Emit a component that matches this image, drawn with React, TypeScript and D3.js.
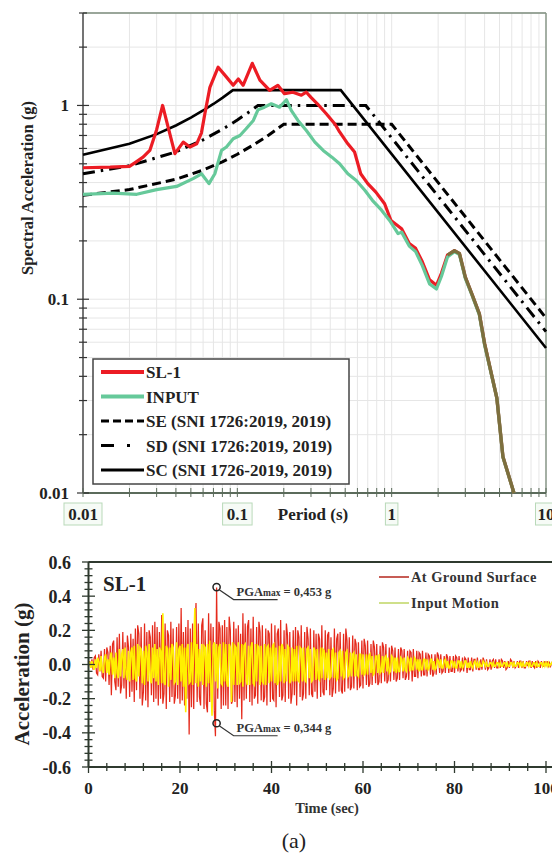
import React from "react";
import * as d3 from "d3";

// ---------- Response spectra (period s, Sa g) ----------
const sl1Periods = [0.01, 0.015, 0.02, 0.022, 0.0245, 0.0271, 0.03, 0.0328, 0.0355, 0.0394, 0.0446, 0.0493, 0.0545, 0.0585, 0.0616, 0.0664, 0.0751, 0.0851, 0.094, 0.1015, 0.109, 0.125, 0.14, 0.162, 0.183, 0.202, 0.229, 0.26, 0.28, 0.3, 0.33, 0.377, 0.43, 0.46, 0.52, 0.575, 0.63, 0.7, 0.79, 0.9, 0.99, 1.16, 1.3, 1.43, 1.58, 1.76, 1.95, 2.1, 2.3, 2.55, 2.75, 3.0, 3.33, 3.7, 4.0, 4.8, 5.26, 6.2];
const sl1Values = [0.477, 0.48, 0.485, 0.51, 0.541, 0.586, 0.75, 1.0, 0.78, 0.564, 0.647, 0.61, 0.634, 0.72, 0.906, 1.24, 1.575, 1.4, 1.27, 1.37, 1.27, 1.65, 1.35, 1.195, 1.27, 1.15, 1.17, 1.13, 1.17, 1.1, 1.02, 0.906, 0.8, 0.73, 0.634, 0.575, 0.444, 0.395, 0.357, 0.311, 0.255, 0.231, 0.194, 0.183, 0.156, 0.126, 0.118, 0.136, 0.169, 0.178, 0.172, 0.13, 0.105, 0.084, 0.059, 0.031, 0.0154, 0.01];

const inputPeriods = [0.01, 0.0157, 0.0223, 0.03, 0.0404, 0.0517, 0.0586, 0.0655, 0.0715, 0.079, 0.085, 0.094, 0.104, 0.114, 0.127, 0.136, 0.15, 0.166, 0.188, 0.208, 0.224, 0.247, 0.28, 0.318, 0.36, 0.41, 0.46, 0.52, 0.59, 0.67, 0.75, 0.86, 0.97, 1.1, 1.16, 1.3, 1.43, 1.58, 1.76, 1.95, 2.1, 2.3, 2.55, 2.75, 3.0, 3.33, 3.7, 4.0, 4.8, 5.26, 6.2];
const inputValues = [0.348, 0.353, 0.348, 0.368, 0.382, 0.419, 0.444, 0.395, 0.444, 0.586, 0.61, 0.673, 0.7, 0.758, 0.837, 0.95, 0.98, 1.02, 0.98, 1.07, 0.94, 0.837, 0.743, 0.647, 0.586, 0.541, 0.5, 0.444, 0.41, 0.365, 0.324, 0.288, 0.255, 0.218, 0.222, 0.188, 0.176, 0.149, 0.12, 0.113, 0.131, 0.165, 0.176, 0.17, 0.128, 0.104, 0.083, 0.058, 0.031, 0.0153, 0.01];

const sePeriods = [0.01, 0.02, 0.04, 0.06, 0.08, 0.1, 0.13, 0.16, 0.2, 1.0, 10];
const seValues = [0.344, 0.368, 0.416, 0.464, 0.512, 0.56, 0.632, 0.704, 0.8, 0.8, 0.08];
const sdPeriods = [0.01, 0.02, 0.04, 0.06, 0.08, 0.1, 0.12, 0.136, 0.68, 10];
const sdValues = [0.444, 0.488, 0.576, 0.665, 0.753, 0.841, 0.929, 1.0, 1.0, 0.068];
const scPeriods = [0.01, 0.02, 0.03, 0.04, 0.05, 0.06, 0.07, 0.08, 0.0936, 0.468, 10];
const scValues = [0.557, 0.634, 0.711, 0.788, 0.865, 0.942, 1.018, 1.095, 1.2, 1.2, 0.056];

const periodTickLabels = ["0.01", "0.1", "1", "10"];
const saTickLabels = ["0.01", "0.1", "1"];
const spectraLegend = ["SL-1", "INPUT", "SE (SNI 1726:2019, 2019)", "SD (SNI 1726:2019, 2019)", "SC (SNI 1726-2019, 2019)"];

// ---------- Acceleration time histories (g), sampled every 0.25 s ----------
const sampleStep = 0.25;
const accGround = [
  0, 0.02, -0.02, 0.03, -0.03, 0.04, 0.05, -0.05, -0.06, 0.06, -0.04, 0.08, -0.07, -0.08, 0.09, -0.1, 0.1, 0.07, -0.12, 0.11,
  -0.18, 0.12, 0.14, -0.1, -0.15, 0.16, -0.13, 0.18, -0.17, -0.12, 0.19, -0.14, 0.13, -0.2, 0.17, 0.1, -0.19, 0.18, -0.16, 0.15,
  -0.22, 0.21, -0.15, 0.23, 0.18, -0.2, 0.22, -0.24, -0.16, 0.24, -0.21, 0.19, -0.25, 0.2, 0.16, -0.18, 0.23, -0.22, 0.25, -0.2,
  0.22, -0.24, 0.19, -0.2, 0.29, -0.23, -0.17, 0.24, -0.26, 0.2, 0.17, -0.22, 0.25, -0.19, 0.21, -0.23, -0.18, 0.22, -0.2, 0.24,
  -0.23, 0.33, -0.21, 0.19, -0.24, 0.22, -0.2, 0.26, -0.41, 0.21, -0.25, 0.24, -0.26, 0.2, 0.36, -0.22, 0.24, -0.19, -0.24, 0.23,
  0.27, -0.26, 0.2, -0.23, -0.28, 0.3, -0.22, 0.24, -0.25, 0.22, -0.27, -0.42, 0.45, -0.2, 0.25, 0.21, -0.26, 0.23, -0.24, 0.26,
  -0.24, 0.22, -0.26, 0.28, 0.2, -0.23, -0.21, 0.25, -0.22, 0.21, -0.25, 0.23, -0.2, 0.18, -0.32, 0.3, -0.21, 0.24, -0.2, 0.22,
  0.26, -0.22, 0.21, -0.24, 0.28, -0.2, -0.18, 0.22, -0.23, 0.25, 0.19, -0.21, 0.23, -0.22, -0.19, 0.21, -0.24, 0.2, 0.18, -0.22,
  0.24, -0.2, -0.21, 0.23, -0.25, 0.18, 0.21, -0.19, 0.26, -0.21, -0.18, 0.2, -0.22, 0.24, 0.17, -0.2, 0.19, -0.23, -0.17, 0.2,
  -0.18, 0.22, -0.24, 0.2, 0.16, -0.19, 0.23, -0.21, -0.17, 0.19, -0.2, 0.22, 0.15, -0.18, 0.21, -0.17, -0.19, 0.2, -0.16, 0.18,
  -0.2, 0.18, 0.15, -0.19, 0.23, -0.16, -0.18, 0.2, -0.15, 0.17, 0.19, -0.18, 0.16, -0.19, -0.14, 0.21, -0.17, 0.15, 0.18, -0.16,
  0.19, -0.15, -0.17, 0.18, -0.16, 0.21, 0.14, -0.14, 0.16, -0.15, -0.13, 0.17, -0.14, 0.15, 0.12, -0.15, 0.13, -0.13, -0.12, 0.14,
  -0.14, 0.15, 0.11, -0.12, 0.14, -0.13, -0.11, 0.12, -0.12, 0.14, 0.1, -0.11, 0.12, -0.12, -0.1, 0.11, -0.11, 0.13, 0.1, -0.1,
  0.12, -0.11, -0.09, 0.1, -0.1, 0.11, 0.08, -0.09, 0.1, -0.1, -0.08, 0.09, -0.09, 0.1, 0.08, -0.08, 0.09, -0.09, -0.07, 0.08,
  -0.09, 0.08, 0.07, -0.1, 0.09, -0.07, -0.07, 0.08, -0.08, 0.07, 0.06, -0.07, 0.08, -0.06, -0.06, 0.07, -0.07, 0.06, 0.05, -0.06,
  0.06, -0.07, -0.05, 0.06, -0.06, 0.07, 0.05, -0.05, 0.06, -0.05, -0.04, 0.05, -0.05, 0.06, 0.04, -0.05, 0.05, -0.04, -0.04, 0.05,
  -0.05, 0.05, 0.04, -0.04, 0.05, -0.04, -0.03, 0.04, -0.04, 0.04, 0.03, -0.05, 0.04, -0.03, -0.03, 0.04, -0.04, 0.03, 0.03, -0.03,
  0.04, -0.03, -0.03, 0.03, -0.03, 0.04, 0.02, -0.03, 0.03, -0.03, -0.02, 0.03, -0.03, 0.02, 0.03, -0.02, 0.03, -0.02, -0.02, 0.03,
  -0.02, 0.03, 0.02, -0.02, 0.02, -0.03, -0.02, 0.02, -0.02, 0.03, 0.02, -0.02, 0.02, -0.02, -0.01, 0.02, -0.02, 0.02, 0.02, -0.02,
  0.02, -0.02, -0.02, 0.02, -0.01, 0.02, 0.02, -0.02, 0.02, -0.01, -0.02, 0.02, -0.02, 0.02, 0.01, -0.02, 0.02, -0.01, -0.01, 0.02,
  -0.01, 0.02, -0.01, 0.01, -0.01, 0.01, 0, 0,
];
const accInput = [
  0, 0.01, -0.02, 0.02, -0.01, -0.03, 0.03, -0.02, 0.04, 0.02, -0.04, 0.05, -0.03, -0.05, 0.04, 0.06, -0.05, 0.03, -0.06, 0.05,
  0.07, -0.06, 0.04, -0.08, 0.07, -0.05, -0.08, 0.09, -0.07, 0.06, 0.09, -0.08, 0.1, -0.06, -0.09, 0.08, -0.1, 0.07, 0.1, -0.09,
  0.11, -0.08, -0.1, 0.12, -0.07, 0.1, 0.09, -0.11, 0.08, -0.12, 0.11, 0.07, -0.1, 0.12, -0.09, -0.11, 0.1, -0.08, 0.12, -0.1,
  0.09, -0.12, 0.1, 0.08, -0.11, 0.3, -0.1, -0.12, 0.11, 0.09, -0.13, 0.1, -0.09, 0.12, 0.1, -0.11, -0.1, 0.13, -0.12, 0.09,
  0.11, -0.1, 0.12, -0.13, 0.1, -0.28, 0.09, 0.12, -0.11, -0.1, 0.13, -0.12, 0.1, 0.33, -0.11, 0.12, -0.13, 0.09, -0.1, 0.12,
  -0.12, 0.11, 0.1, -0.13, 0.12, -0.11, 0.14, -0.12, -0.3, 0.11, 0.13, -0.1, 0.12, -0.14, 0.1, 0.12, -0.11, -0.12, 0.13, -0.1,
  0.12, -0.11, -0.13, 0.12, 0.1, -0.22, 0.13, -0.12, 0.11, 0.1, -0.12, 0.13, -0.11, -0.1, 0.12, -0.13, 0.11, 0.12, -0.1, -0.12,
  0.11, -0.12, 0.1, 0.13, -0.11, -0.12, 0.12, -0.1, 0.11, 0.1, -0.12, 0.11, -0.1, -0.11, 0.12, -0.12, 0.1, 0.11, -0.11, 0.1,
  -0.1, 0.11, 0.12, -0.11, 0.1, -0.12, -0.1, 0.11, -0.1, 0.12, 0.1, -0.11, 0.09, -0.1, 0.11, 0.1, -0.11, -0.09, 0.1, -0.1,
  0.09, -0.1, 0.11, -0.09, -0.1, 0.1, 0.09, -0.1, 0.1, -0.09, -0.1, 0.09, 0.1, -0.08, 0.09, -0.1, -0.09, 0.1, 0.08, -0.09,
  0.09, -0.08, -0.09, 0.1, -0.08, 0.09, 0.08, -0.09, 0.07, -0.08, 0.09, -0.08, -0.07, 0.08, 0.09, -0.08, 0.07, -0.09, -0.08, 0.07,
  0.08, -0.07, 0.08, -0.08, -0.07, 0.07, 0.08, -0.07, -0.06, 0.07, -0.07, 0.06, 0.07, -0.07, 0.06, -0.06, -0.07, 0.06, 0.06, -0.06,
  0.06, -0.06, -0.05, 0.06, -0.06, 0.05, 0.06, -0.05, 0.05, -0.06, -0.05, 0.05, 0.05, -0.05, 0.06, -0.05, -0.04, 0.05, -0.05, 0.04,
  0.05, -0.04, 0.04, -0.05, -0.04, 0.05, 0.04, -0.04, 0.04, -0.05, 0.04, -0.04, -0.04, 0.04, 0.03, -0.04, 0.04, -0.03, -0.04, 0.04,
  0.03, -0.04, 0.04, -0.03, -0.03, 0.04, 0.03, -0.03, 0.03, -0.04, 0.03, -0.03, -0.03, 0.03, 0.03, -0.03, 0.03, -0.03, -0.02, 0.03,
  0.03, -0.03, 0.02, -0.03, -0.02, 0.03, 0.02, -0.02, 0.03, -0.02, -0.02, 0.02, 0.03, -0.02, 0.02, -0.02, -0.02, 0.02, 0.02, -0.02,
  0.02, -0.02, -0.02, 0.02, 0.02, -0.02, 0.02, -0.02, -0.01, 0.02, 0.02, -0.02, 0.01, -0.02, 0.02, -0.01, -0.02, 0.01, 0.02, -0.01,
  0.01, -0.02, 0.01, -0.01, -0.01, 0.02, 0.01, -0.01, 0.01, -0.01, -0.01, 0.01, 0.01, -0.01, 0.01, -0.01, -0.01, 0.01, 0.01, -0.01,
  0.01, -0.01, -0.01, 0.01, 0.01, -0.01, 0.01, -0.01, -0.01, 0.01, 0.01, -0.01, 0.01, -0.01, -0.01, 0.01, 0.01, -0.01, 0.01, -0.01,
  0.01, -0.01, -0.01, 0.01, 0.01, -0.01, 0.01, -0.01, -0.01, 0.01, 0.01, -0.01, 0.01, -0.01, -0.01, 0.01, 0.01, -0.01, 0.01, -0.01,
  0.01, -0.01, 0.01, -0.01, 0, 0.01, 0, 0,
];
const pgaTime = 28;
const pgaPositive = 0.453;
const pgaNegative = -0.344;
const pgaPosLabel = "0,453 g";
const pgaNegLabel = "0,344 g";
const accTickValues = [-0.6, -0.4, -0.2, 0, 0.2, 0.4, 0.6];
const timeTickValues = [0, 20, 40, 60, 80, 100];
const accLegend = ["At Ground Surface", "Input Motion"];

const SERIF = "'Liberation Serif', 'Times New Roman', serif";

export default function App() {
  // ---- top chart scales ----
  const xS = d3.scaleLog().domain([0.01, 10]).range([83, 546]);
  const yS = d3.scaleLog().domain([0.01, 3]).range([493, 13]);
  const specLine = (ps: number[], vs: number[]) =>
    d3
      .line<number>()
      .x((_, i) => xS(ps[i]))
      .y((d) => yS(d))(vs) || "";

  const xMinor: number[] = [];
  [0.01, 0.1, 1].forEach((dec) => {
    for (let k = 1; k <= 9; k++) xMinor.push(k * dec);
  });
  xMinor.push(10);
  const yMinor: number[] = [];
  [0.01, 0.1].forEach((dec) => {
    for (let k = 1; k <= 9; k++) yMinor.push(k * dec);
  });
  yMinor.push(1, 2, 3);

  const tailStart = sl1Periods.findIndex((p) => p >= 2.3);
  const tailP = sl1Periods.slice(tailStart);
  const tailV = sl1Values.slice(tailStart);

  // ---- bottom chart scales ----
  const xB = d3.scaleLinear().domain([0, 100]).range([88.5, 546]);
  const yB = d3.scaleLinear().domain([-0.6, 0.6]).range([767, 562]);
  const accLine = d3
    .line<number>()
    .x((_, i) => xB(i * sampleStep))
    .y((d) => yB(d));
  const yMinorB = d3.range(-0.6, 0.6001, 0.04);
  const xMinorB = d3.range(0, 104, 4);

  const legendY0 = 372;
  const legendStep = 24.5;

  const pgaX = xB(pgaTime);
  const pgaY1 = yB(pgaPositive);
  const pgaY2 = yB(pgaNegative);

  return (
    <svg
      width={552}
      height={863}
      style={{ position: "absolute", left: 0, top: 0, background: "#fff" }}
      fontFamily={SERIF}
    >
      {/* ================= TOP: response spectra ================= */}
      <g>
        {xMinor.map((v, i) => (
          <line key={"gx" + i} x1={xS(v)} x2={xS(v)} y1={13} y2={493} stroke="#e6e6e6" strokeWidth={1} />
        ))}
        {yMinor.map((v, i) => (
          <line key={"gy" + i} x1={83} x2={546} y1={yS(v)} y2={yS(v)} stroke="#e6e6e6" strokeWidth={1} />
        ))}
        {/* frame */}
        <line x1={83} x2={546} y1={13} y2={13} stroke="#7d8c7d" strokeWidth={1.5} />
        <line x1={546} x2={546} y1={13} y2={493} stroke="#8a988a" strokeWidth={1.5} />
        <line x1={83} x2={83} y1={13} y2={493} stroke="#4a4a4a" strokeWidth={1.5} />
        <line x1={83} x2={546} y1={493} y2={493} stroke="#5b6b5b" strokeWidth={2} />
        {/* y ticks */}
        {yMinor.map((v, i) => {
          const major = [0.01, 0.1, 1].some((m) => Math.abs(m - v) < 1e-9);
          return (
            <line key={"ty" + i} x1={major ? 77 : 79} x2={major ? 89 : 87} y1={yS(v)} y2={yS(v)} stroke="#333" strokeWidth={1.2} />
          );
        })}
        {saTickLabels.map((t) => (
          <text key={"ly" + t} x={69} y={yS(+t) + 6} textAnchor="end" fontSize={17} fontWeight="bold" fill="#222">
            {t}
          </text>
        ))}
        {/* x ticks */}
        {xMinor.map((v, i) => (
          <line key={"tx" + i} x1={xS(v)} x2={xS(v)} y1={488} y2={497} stroke="#5b6b5b" strokeWidth={1} />
        ))}
        {periodTickLabels.map((t) => {
          const w = t.length * 8.5 + 4;
          return (
            <g key={"lx" + t}>
              <rect x={xS(+t) - w / 2} y={503} width={w} height={22} fill="#f6fbf6" stroke="#b9d9b9" strokeWidth={1} />
              <text x={xS(+t)} y={520} textAnchor="middle" fontSize={17} fontWeight="bold" fill="#222">
                {t}
              </text>
            </g>
          );
        })}
        <text x={313} y={520} textAnchor="middle" fontSize={17} fontWeight="bold" fill="#222">
          Period (s)
        </text>
        <text
          transform="translate(33,188) rotate(-90)"
          textAnchor="middle"
          fontSize={16.5}
          fontWeight="bold"
          fill="#222"
        >
          Spectral Acceleration (g)
        </text>

        {/* design spectra */}
        <path d={specLine(sePeriods, seValues)} fill="none" stroke="#000" strokeWidth={3} strokeDasharray="9 5" />
        <path d={specLine(sdPeriods, sdValues)} fill="none" stroke="#000" strokeWidth={3} strokeDasharray="12 6 2.5 6" />
        <path d={specLine(scPeriods, scValues)} fill="none" stroke="#000" strokeWidth={2.6} />
        {/* computed spectra */}
        <path d={specLine(sl1Periods, sl1Values)} fill="none" stroke="#ec1c24" strokeWidth={3.2} strokeLinejoin="round" />
        <path d={specLine(inputPeriods, inputValues)} fill="none" stroke="#66c99a" strokeWidth={3.2} strokeLinejoin="round" />
        <path d={specLine(tailP, tailV)} fill="none" stroke="#7d6f3e" strokeWidth={3.4} strokeLinejoin="round" />

        {/* legend */}
        <rect x={93} y={359} width={256} height={125} fill="#fff" stroke="#444" strokeWidth={1.5} />
        {spectraLegend.map((label, i) => {
          const y = legendY0 + i * legendStep;
          const styles = [
            { stroke: "#ec1c24", w: 4, dash: undefined },
            { stroke: "#66c99a", w: 4, dash: undefined },
            { stroke: "#000", w: 3, dash: "8 4" },
            { stroke: "#000", w: 3, dash: "13 13 3 20" },
            { stroke: "#000", w: 3, dash: undefined },
          ][i];
          return (
            <g key={"leg" + i}>
              <line x1={101} x2={144} y1={y} y2={y} stroke={styles.stroke} strokeWidth={styles.w} strokeDasharray={styles.dash} />
              <text x={146} y={y + 6} fontSize={17} fontWeight="bold" fill="#222">
                {label}
              </text>
            </g>
          );
        })}
      </g>

      {/* ================= BOTTOM: acceleration time history ================= */}
      <g>
        <path d={accLine(accGround) || ""} fill="none" stroke="#e52a1c" strokeWidth={1.25} />
        <path d={accLine(accInput) || ""} fill="none" stroke="#fff000" strokeWidth={1.6} />
        {/* frame */}
        <line x1={88.5} x2={560} y1={562} y2={562} stroke="#2f3a2f" strokeWidth={2} />
        <line x1={88.5} x2={88.5} y1={562} y2={767} stroke="#2f3a2f" strokeWidth={2} />
        <line x1={88.5} x2={560} y1={767} y2={767} stroke="#2f3a2f" strokeWidth={2} />
        {yMinorB.map((v, i) => {
          const major = accTickValues.some((m) => Math.abs(m - v) < 1e-6);
          return (
            <line key={"tyb" + i} x1={major ? 82 : 84.5} x2={major ? 95 : 92.5} y1={yB(v)} y2={yB(v)} stroke="#2f3a2f" strokeWidth={1.3} />
          );
        })}
        {xMinorB.map((v, i) => {
          const major = v % 20 === 0;
          return (
            <line key={"txb" + i} x1={xB(v)} x2={xB(v)} y1={major ? 761 : 763} y2={major ? 773 : 771} stroke="#2f3a2f" strokeWidth={1.3} />
          );
        })}
        {accTickValues.map((v) => (
          <text key={"lyb" + v} x={71} y={yB(v) + 6.5} textAnchor="end" fontSize={18} fontWeight="bold" fill="#222">
            {v.toFixed(1)}
          </text>
        ))}
        {timeTickValues.map((v) => (
          <text key={"lxb" + v} x={xB(v)} y={794} textAnchor="middle" fontSize={17} fontWeight="bold" fill="#222">
            {v}
          </text>
        ))}
        <text x={327} y={813} textAnchor="middle" fontSize={14.5} fontWeight="bold" fill="#333">
          Time (sec)
        </text>
        <text transform="translate(29,674) rotate(-90)" textAnchor="middle" fontSize={21} fontWeight="bold" fill="#222">
          Acceleration (g)
        </text>
        <text x={103} y={591} fontSize={21} fontWeight="bold" fill="#222">
          SL-1
        </text>

        {/* legend */}
        <line x1={379} x2={409} y1={577} y2={577} stroke="#b5261c" strokeWidth={1.5} />
        <text x={411} y={582} fontSize={14.5} fontWeight="bold" fill="#333" letterSpacing={0.4}>
          {accLegend[0]}
        </text>
        <line x1={379} x2={409} y1={603} y2={603} stroke="#cfe08a" strokeWidth={2} />
        <text x={411} y={608} fontSize={14.5} fontWeight="bold" fill="#333" letterSpacing={0.4}>
          {accLegend[1]}
        </text>

        {/* PGA annotations */}
        {[
          { y: pgaY1, label: pgaPosLabel },
          { y: pgaY2, label: pgaNegLabel },
        ].map((a, i) => (
          <g key={"pga" + i}>
            <circle cx={pgaX} cy={a.y} r={3.6} fill="none" stroke="#222" strokeWidth={1.5} />
            <polyline
              points={`${pgaX + 2.6},${a.y + 2.6} ${pgaX + 17},${a.y + 12.5} ${pgaX + 61},${a.y + 12.5}`}
              fill="none"
              stroke="#333"
              strokeWidth={1.2}
            />
            <text x={pgaX + 20} y={a.y + 9} fontSize={12.5} fontWeight="bold" fill="#333">
              PGA<tspan fontSize={9.5}>max</tspan>
              {" = " + a.label}
            </text>
          </g>
        ))}
      </g>

      <text x={294} y={848} textAnchor="middle" fontSize={22} fill="#222">
        (a)
      </text>
    </svg>
  );
}
